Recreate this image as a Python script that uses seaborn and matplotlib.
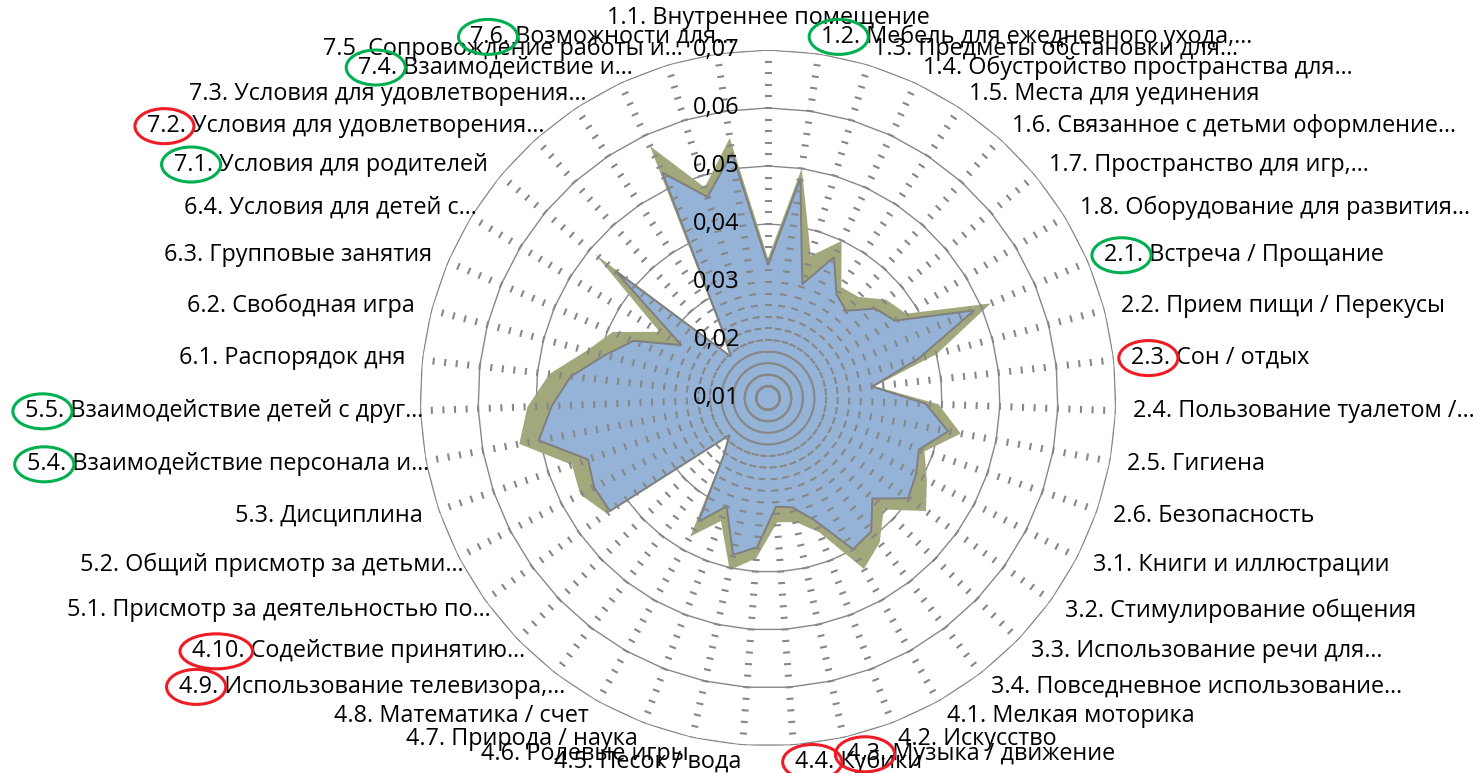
import numpy as np
import matplotlib
matplotlib.use('Agg')
import matplotlib.pyplot as plt
import matplotlib.transforms as mtransforms
from matplotlib.patches import Ellipse
from matplotlib.collections import LineCollection
import seaborn as sns

# categories (clockwise from the top)
categories = [
    "1.1. Внутреннее помещение",
    "1.2. Мебель для ежедневного ухода,…",
    "1.3. Предметы обстановки для…",
    "1.4. Обустройство пространства для…",
    "1.5. Места для уединения",
    "1.6. Связанное с детьми оформление…",
    "1.7. Пространство для игр,…",
    "1.8. Оборудование для развития…",
    "2.1. Встреча / Прощание",
    "2.2. Прием пищи / Перекусы",
    "2.3. Сон / отдых",
    "2.4. Пользование туалетом /…",
    "2.5. Гигиена",
    "2.6. Безопасность",
    "3.1. Книги и иллюстрации",
    "3.2. Стимулирование общения",
    "3.3. Использование речи для…",
    "3.4. Повседневное использование…",
    "4.1. Мелкая моторика",
    "4.2. Искусство",
    "4.3. Музыка / движение",
    "4.4. Кубики",
    "4.5. Песок / вода",
    "4.6. Ролевые игры",
    "4.7. Природа / наука",
    "4.8. Математика / счет",
    "4.9. Использование телевизора,…",
    "4.10. Содействие принятию…",
    "5.1. Присмотр за деятельностью по…",
    "5.2. Общий присмотр за детьми…",
    "5.3. Дисциплина",
    "5.4. Взаимодействие персонала и…",
    "5.5. Взаимодействие детей с друг…",
    "6.1. Распорядок дня",
    "6.2. Свободная игра",
    "6.3. Групповые занятия",
    "6.4. Условия для детей с…",
    "7.1. Условия для родителей",
    "7.2. Условия для удовлетворения…",
    "7.3. Условия для удовлетворения…",
    "7.4. Взаимодействие и…",
    "7.5. Сопровождение работы и…",
    "7.6. Возможности для…",
]

# olive series (behind)
series_back = [0.0341, 0.0500, 0.0356, 0.0399, 0.0329, 0.0334, 0.0365, 0.0379,
               0.0517, 0.0401, 0.0285, 0.0394, 0.0438, 0.0385,
               0.0408, 0.0435, 0.0377, 0.0415,
               0.0438, 0.0348, 0.0319, 0.0315, 0.0377, 0.0404, 0.0327, 0.0374, 0.0228, 0.0196,
               0.0442, 0.0464, 0.0457, 0.0536, 0.0515,
               0.0479, 0.0423, 0.0391, 0.0319,
               0.0488, 0.0199, 0.0254, 0.0580, 0.0479, 0.0553]

# blue series (front)
series_front = [0.0329, 0.0483, 0.0305, 0.0368, 0.0314, 0.0302, 0.0341, 0.0356,
                0.0486, 0.0368, 0.0281, 0.0372, 0.0416, 0.0375,
                0.0387, 0.0397, 0.0350, 0.0391,
                0.0399, 0.0326, 0.0293, 0.0288, 0.0358, 0.0377, 0.0300, 0.0344, 0.0225, 0.0192,
                0.0435, 0.0437, 0.0428, 0.0502, 0.0473,
                0.0442, 0.0391, 0.0352, 0.0275,
                0.0443, 0.0196, 0.0245, 0.0529, 0.0462, 0.0527]

r_ticks = [0.01, 0.02, 0.03, 0.04, 0.05, 0.06, 0.07]
r_tick_labels = ['0,01', '0,02', '0,03', '0,04', '0,05', '0,06', '0,07']
minor_step = 0.002

# hand-drawn marks around item numbers
red_marks = ['7.2.', '2.3.', '4.10.', '4.9.', '4.3.', '4.4.']
green_marks = ['7.6.', '7.4.', '7.1.', '5.5.', '5.4.', '1.2.', '2.1.']

sns.set_theme(style='white')
plt.rcParams['font.family'] = ['Open Sans', 'DejaVu Sans']
plt.rcParams['text.color'] = 'black'

W, H = 1477, 773
fig = plt.figure(figsize=(W / 100, H / 100), dpi=100)
cx, cy, R = 768, 398, 348
ax = fig.add_axes([(cx - R) / W, (H - cy - R) / H, 2 * R / W, 2 * R / H], projection='polar')
ax.set_theta_zero_location('N')
ax.set_theta_direction(-1)
ax.set_ylim(r_ticks[0], r_ticks[-1])
ax.grid(False)
ax.set_xticks([])
ax.set_yticks([])
ax.spines['polar'].set_visible(False)
ax.patch.set_alpha(0)

n = len(categories)
theta = np.arange(n) * 2 * np.pi / n
tc = np.append(theta, theta[0])
grey = '#878787'
fs = 16.8

# gridlines (polygons)
for v in r_ticks[1:]:
    ax.plot(tc, [v] * (n + 1), color=grey, lw=1.0, zorder=1)

ax.fill(tc, np.append(series_back, series_back[0]), color='#A2A87C', lw=0, zorder=2)
ax.fill(tc, np.append(series_front, series_front[0]), facecolor='#95B3D7',
        edgecolor='#7F7F7F', lw=1.4, zorder=3)

# tick dashes on every spoke
px_per_unit = R / (r_ticks[-1] - r_ticks[0])
half = 3.5
segs = []
for v in np.arange(r_ticks[0] + minor_step, r_ticks[-1] + 1e-9, minor_step):
    rp = (v - r_ticks[0]) * px_per_unit
    d = np.arctan(half / rp)
    r2 = r_ticks[0] + np.hypot(rp, half) / px_per_unit
    for t in theta:
        segs.append([(t - d, r2), (t + d, r2)])
ax.add_collection(LineCollection(segs, colors=grey, linewidths=1.5, zorder=4))

# radial value labels
tr = mtransforms.offset_copy(ax.transData, fig=fig, x=-28, y=0, units='dots')
for v, lab in zip(r_ticks, r_tick_labels):
    ax.text(0, v, lab, transform=tr, ha='right', va='center', fontsize=17,
            color='black', zorder=6)

# category labels
r_lab = r_ticks[-1] + 17 / px_per_unit
texts = []
for t, lab in zip(theta, categories):
    s = np.sin(t)
    if abs(s) < 1e-6:
        txt = ax.text(t, r_ticks[-1] + 32 / px_per_unit, lab, ha='center', va='center',
                      fontsize=fs, color='black')
    elif s > 0:
        txt = ax.text(t, r_lab, lab, ha='left', va='center', fontsize=fs, color='black')
    else:
        shift = 20 if lab.endswith('…') else 0
        trl = mtransforms.offset_copy(ax.transData, fig=fig, x=shift, y=0, units='dots')
        txt = ax.text(t, r_lab, lab, transform=trl, ha='right', va='center',
                      fontsize=fs, color='black')
    texts.append(txt)

# ellipses around marked numbers
fig.canvas.draw()
renderer = fig.canvas.get_renderer()
for marks, col in [(red_marks, '#EE1C25'), (green_marks, '#00B050')]:
    for m in marks:
        txt = next(tx for tx in texts if tx.get_text().startswith(m + ' '))
        bb = txt.get_window_extent(renderer)
        probe = fig.text(0, 0, m, fontsize=fs)
        pw = probe.get_window_extent(renderer).width
        probe.remove()
        e = Ellipse((bb.x0 + pw / 2 - 2, (bb.y0 + bb.y1) / 2), pw + 20, 35, fill=False,
                    edgecolor=col, lw=2.2, transform=mtransforms.IdentityTransform(), zorder=10)
        fig.add_artist(e)

fig.savefig('out.png', dpi=100)
